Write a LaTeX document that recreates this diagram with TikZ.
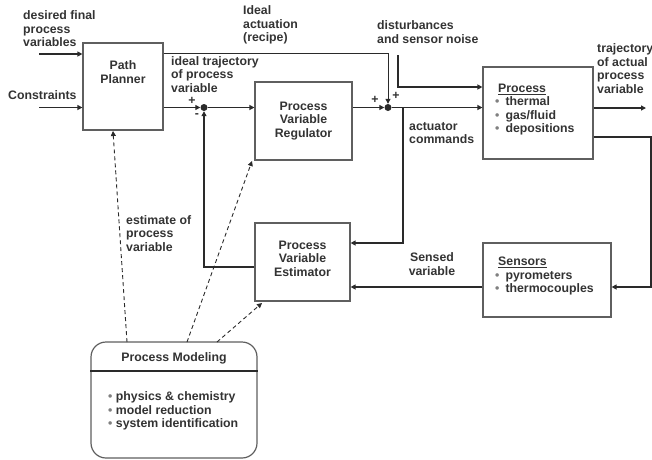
\documentclass[tikz,border=0pt]{standalone}
\usepackage{fontspec}
\setmainfont{Liberation Sans}
\usetikzlibrary{arrows.meta}
\definecolor{ink}{HTML}{2A2A2A}
\definecolor{txt}{HTML}{333333}
\newcommand{\bul}{{\color{gray}\textbullet}}
\tikzset{
  lbl/.style={font=\fontsize{12.3}{13.5}\selectfont\bfseries, text=txt, inner sep=0pt, align=left},
  blk/.style={draw=ink!75, line width=1.2pt, fill=white, inner sep=0pt},
  conn/.style={draw=ink, line width=1.6pt, -{Triangle[length=5pt,width=5pt]}},
  thinconn/.style={draw=ink, line width=1pt, -{Triangle[length=5pt,width=5pt]}},
  dconn/.style={draw=ink, line width=0.9pt, dash pattern=on 4pt off 3pt, -{Triangle[length=5pt,width=5pt]}},
  sumdot/.style={circle, fill=ink, inner sep=0pt, minimum size=7pt}
}
\begin{document}
\begin{tikzpicture}[x=1pt,y=-1pt]
\useasboundingbox (0,0) rectangle (652,459);
% blocks
\node[blk, minimum width=80pt, minimum height=87pt] (pp) at (123,86.5) {};
\node[lbl, align=center] (ppt) at (123,72) {Path\\Planner};
\node[blk, lbl, align=center, minimum width=97pt, minimum height=78pt] (reg) at (303.5,121) {Process\\Variable\\Regulator};
\node[blk, minimum width=95pt, minimum height=78pt] (est) at (302.5,262) {};
\node[lbl, align=center] (estt) at (302.5,258.5) {Process\\Variable\\Estimator};
\node[blk, minimum width=110pt, minimum height=92pt] (proc) at (538,113) {};
\node[lbl, anchor=west] (proct) at (495,109.5) {\hspace*{3pt}\underline{Process}\\\bul\hspace{6pt}thermal\\\bul\hspace{6pt}gas/fluid\\\bul\hspace{6pt}depositions};
\node[blk, minimum width=128pt, minimum height=74pt] (sens) at (547,280) {};
\node[lbl, anchor=west] (senst) at (495,276) {\hspace*{3pt}\underline{Sensors}\\\bul\hspace{6pt}pyrometers\\\bul\hspace{6pt}thermocouples};
\node[blk, rounded corners=15pt, minimum width=166pt, minimum height=116pt] (pm) at (174,400) {};
\draw[ink, line width=1.6pt] (pm.west |- 0,371) -- (pm.east |- 0,371);
\node[lbl, align=center] (pmt) at (174,358) {Process Modeling};
\node[lbl, anchor=west] (pml) at (108,411) {\bul\ physics \& chemistry\\\bul\ model reduction\\\bul\ system identification};
% summing junctions
\node[sumdot] (s1) at (204,107.5) {};
\node[sumdot] (s2) at (388,107.5) {};
\node[lbl] (p1) at (192,101) {+};
\node[lbl] (m1s) at (197,116) {-};
\node[lbl] (p2) at (375,100) {+};
\node[lbl] (p3) at (396,96) {+};
% labels
\node[lbl, anchor=west] (l1) at (23,29) {desired final\\process\\variables};
\node[lbl, anchor=west] (l2) at (8,95) {Constraints};
\node[lbl, anchor=west] (l3) at (243,25) {Ideal\\actuation\\(recipe)};
\node[lbl, anchor=west] (l4) at (171,74.5) {ideal trajectory\\of process\\variable};
\node[lbl, anchor=west] (l5) at (377,32) {disturbances\\and sensor noise};
\node[lbl, anchor=west] (l6) at (597,68.5) {trajectory\\of actual\\process\\variable};
\node[lbl, anchor=west] (l7) at (409,133) {actuator\\commands};
\node[lbl, align=center] (l8) at (432,264) {Sensed\\variable};
\node[lbl, anchor=west] (l9) at (126,233.5) {estimate of\\process\\variable};
% coordinates
\coordinate (in1) at (39,54);
\coordinate (in2) at (39,107.5);
\coordinate (ia) at (388,53);
\coordinate (d0) at (398,55);
\coordinate (d1) at (398,87);
\coordinate (out) at (646,108);
\coordinate (c1) at (651,137);
\coordinate (c2) at (651,287);
\coordinate (a1) at (403,243);
\coordinate (e1) at (204,267);
% connectors
\draw[conn] (in1) -- (in1 -| pp.west);
\draw[conn] (in2) -- (in2 -| pp.west);
\draw[conn] (in2 -| pp.east) -- (s1);
\draw[conn] (s1) -- (s1 -| reg.west);
\draw[conn] (s1 -| reg.east) -- (s2);
\draw[thinconn] (ia -| pp.east) -- (ia) -- (s2);
\draw[conn] (d0) -- (d1) -- (d1 -| proc.west);
\draw[conn] (s2) -- (s2 -| proc.west);
\draw[conn] (out -| proc.east) -- (out);
\draw[conn] (c1 -| proc.east) -- (c1) -- (c2) -- (c2 -| sens.east);
\draw[conn] (c2 -| sens.west) -- (c2 -| est.east);
\draw[conn] (a1 |- s2) -- (a1) -- (a1 -| est.east);
\draw[conn] (e1 -| est.west) -- (e1) -- (s1);
% dashed model links
\coordinate (mA) at (127,342);
\coordinate (mB) at (187,342);
\coordinate (mC) at (217,342);
\coordinate (tA) at (113,131);
\coordinate (tB) at (252,161);
\coordinate (tC) at (262,303);
\draw[dconn] (mA) -- (tA);
\draw[dconn] (mB) -- (tB);
\draw[dconn] (mC) -- (tC);
\end{tikzpicture}
\end{document}
